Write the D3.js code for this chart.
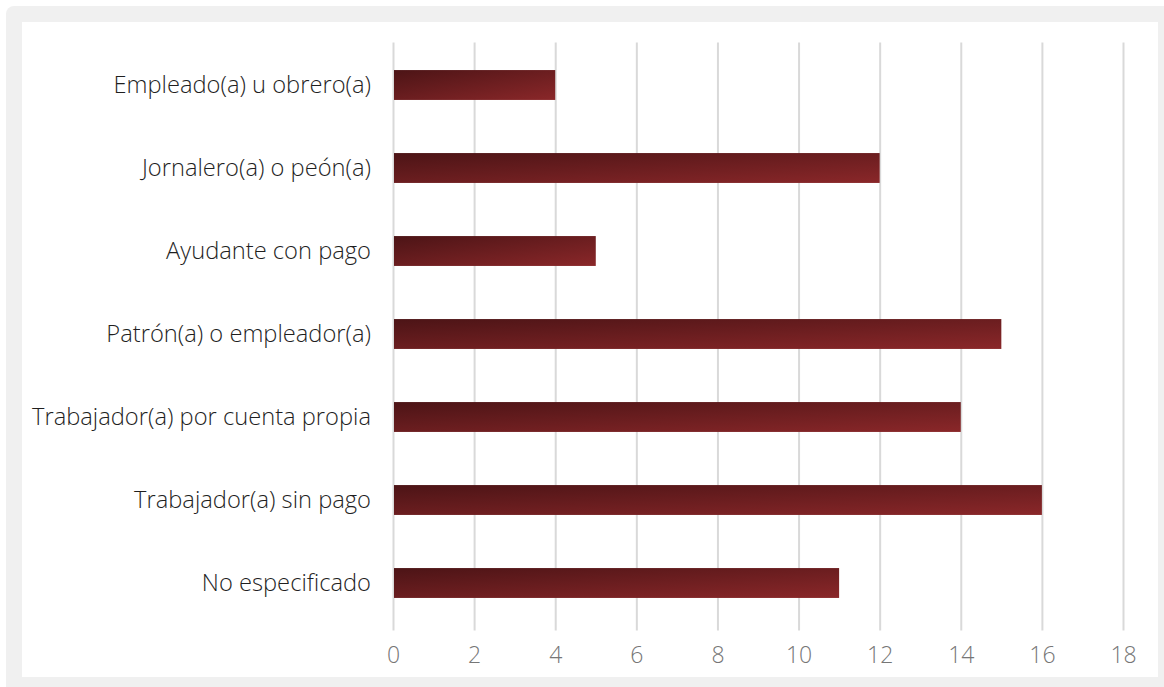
<!DOCTYPE html>
<html>
<head>
<meta charset="utf-8">
<script src="https://cdn.jsdelivr.net/npm/d3@7"></script>
<style>
html,body{margin:0;padding:0;background:#fff;}
svg{display:block;}
</style>
</head>
<body>
<svg id="chart" width="1164" height="687"></svg>
<script>
const categories = [
  "Empleado(a) u obrero(a)",
  "Jornalero(a) o peón(a)",
  "Ayudante con pago",
  "Patrón(a) o empleador(a)",
  "Trabajador(a) por cuenta propia",
  "Trabajador(a) sin pago",
  "No especificado"
];
const values = [4, 12, 5, 15, 14, 16, 11];
const tickValues = [0, 2, 4, 6, 8, 10, 12, 14, 16, 18];

const svg = d3.select("#chart");
const W = 1164, H = 687;
const fontFam = "'Open Sans', 'Segoe UI', sans-serif";

// frame
svg.append("rect").attr("x", 6).attr("y", 6).attr("width", W - 6 + 10).attr("height", H - 6 + 10)
  .attr("rx", 8).attr("fill", "#f0f0f0");
svg.append("rect").attr("x", 22).attr("y", 22).attr("width", 1158 - 22).attr("height", 677 - 22)
  .attr("fill", "#ffffff");

const plot = {left: 393, right: 1123, top: 43.5, bottom: 624.5};

const x = d3.scaleLinear().domain([0, 18]).range([plot.left, plot.right]);
const y = d3.scaleBand().domain(categories).range([plot.top, plot.bottom]).paddingInner(0.64).paddingOuter(0.32);

const defs = svg.append("defs");
const grad = defs.append("linearGradient").attr("id", "barGrad")
  .attr("x1", 0).attr("y1", 0).attr("x2", 1).attr("y2", 1);
grad.append("stop").attr("offset", "0%").attr("stop-color", "#4c1416");
grad.append("stop").attr("offset", "100%").attr("stop-color", "#8a2729");

// gridlines
const xAxis = d3.axisBottom(x).tickValues(tickValues).tickSize(-(plot.bottom - plot.top)).tickPadding(22);
const gx = svg.append("g").attr("transform", `translate(0,${plot.bottom})`).call(xAxis);
gx.select(".domain").remove();
gx.selectAll(".tick line").attr("stroke", "#d9d9d9").attr("stroke-width", 2)
  .attr("y1", 6).attr("y2", -(plot.bottom - plot.top) - 1);
gx.selectAll(".tick text").attr("fill", "#767676").attr("font-size", 23)
  .attr("font-family", fontFam).attr("font-weight", 300).attr("dy", "0.71em");

// bars
svg.append("g").selectAll("rect").data(values).join("rect")
  .attr("x", x(0) + 1)
  .attr("y", (d, i) => y(categories[i]))
  .attr("width", d => x(d) - x(0) - 1)
  .attr("height", y.bandwidth())
  .attr("fill", "url(#barGrad)");

// category labels
const yAxis = d3.axisLeft(y).tickSize(0).tickPadding(22);
const gy = svg.append("g").attr("transform", `translate(${plot.left},0)`).call(yAxis);
gy.select(".domain").remove();
gy.selectAll(".tick text").attr("fill", "#1f1f1f").attr("font-size", 23.7)
  .attr("font-family", fontFam).attr("font-weight", 300);
</script>
</body>
</html>
